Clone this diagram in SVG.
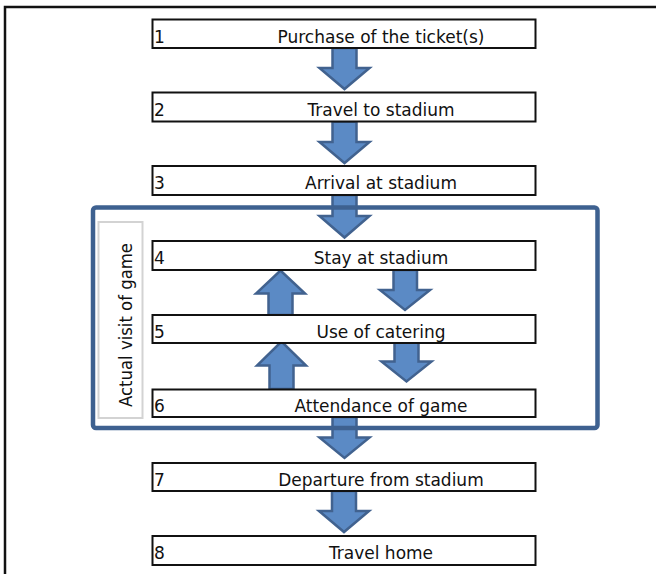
<svg xmlns="http://www.w3.org/2000/svg" width="656" height="574" viewBox="0 0 656 574">
<style>
.box{fill:#fff;stroke:#111;stroke-width:2}
.num{font-family:"DejaVu Sans",sans-serif;font-size:17px;fill:#111}
.lbl{font-family:"DejaVu Sans",sans-serif;font-size:17px;fill:#111;text-anchor:middle}
.arr{fill:#5b8ac5;stroke:#41628f;stroke-width:2.5;stroke-linejoin:miter}
.frame{fill:none;stroke:#3e6190;stroke-width:4.5}
</style>
<rect width="656" height="574" fill="#fff"/>
<path d="M5,574 V7 H656" fill="none" stroke="#111" stroke-width="2.5"/>
<g id="connectors">
<path class="arr" d="M332.5,48 H356.5 V68 H369.5 L344.5,89 L319.5,68 H332.5 Z"/>
<path class="arr" d="M332.5,121.7 H356.5 V142 H369.5 L344.5,163 L319.5,142 H332.5 Z"/>
<path class="arr" d="M332.5,195 H356.5 V216 H369.5 L344.5,237.5 L319.5,216 H332.5 Z"/>
<path class="arr" d="M393.5,270 H417 V290 H430 L405,310 L380,290 H393.5 Z"/>
<path class="arr" d="M394.5,342 H418.5 V361.5 H431.5 L406.5,381.5 L381.5,361.5 H394.5 Z"/>
<path class="arr" d="M268.5,315 H292.5 V293.5 H305 L280.5,270.5 L256,293.5 H268.5 Z"/>
<path class="arr" d="M269.5,389 H293.5 V365.5 H306 L281.5,341.5 L257,365.5 H269.5 Z"/>
<path class="arr" d="M332.5,417 H356.5 V437.5 H369.5 L344.5,458 L319.5,437.5 H332.5 Z"/>
<path class="arr" d="M332,491 H356 V511 H369 L344,532 L319,511 H332 Z"/>
</g>
<g id="frame">
<rect class="frame" x="93" y="207.5" width="504.5" height="220.5" rx="3"/>
</g>
<g id="label">
<rect x="98.5" y="222" width="44" height="196" fill="#fff" stroke="#d3d3d3" stroke-width="2"/>
<text class="lbl" transform="translate(132,325) rotate(-90)" textLength="164" lengthAdjust="spacingAndGlyphs">Actual visit of game</text>
</g>
<g id="n1"><rect class="box" x="152.5" y="19.5" width="383" height="28.5"/><text class="num" x="154" y="42.5">1</text><text class="lbl" x="381" y="42.5">Purchase of the ticket(s)</text></g>
<g id="n2"><rect class="box" x="152.5" y="92.5" width="383" height="29"/><text class="num" x="154" y="115.5">2</text><text class="lbl" x="381" y="115.5">Travel to stadium</text></g>
<g id="n3"><rect class="box" x="152.5" y="166" width="383" height="29"/><text class="num" x="154" y="189">3</text><text class="lbl" x="381" y="189">Arrival at stadium</text></g>
<g id="n4"><rect class="box" x="152.5" y="241" width="383" height="29"/><text class="num" x="154" y="264">4</text><text class="lbl" x="381" y="264">Stay at stadium</text></g>
<g id="n5"><rect class="box" x="152.5" y="315" width="383" height="28"/><text class="num" x="154" y="337.5">5</text><text class="lbl" x="381" y="337.5">Use of catering</text></g>
<g id="n6"><rect class="box" x="152.5" y="389.5" width="383" height="27.5"/><text class="num" x="154" y="411.5">6</text><text class="lbl" x="381" y="411.5">Attendance of game</text></g>
<g id="n7"><rect class="box" x="152.5" y="463" width="383" height="28"/><text class="num" x="154" y="485.5">7</text><text class="lbl" x="381" y="485.5">Departure from stadium</text></g>
<g id="n8"><rect class="box" x="152.5" y="536" width="383" height="29"/><text class="num" x="154" y="559">8</text><text class="lbl" x="381" y="559">Travel home</text></g>
</svg>
